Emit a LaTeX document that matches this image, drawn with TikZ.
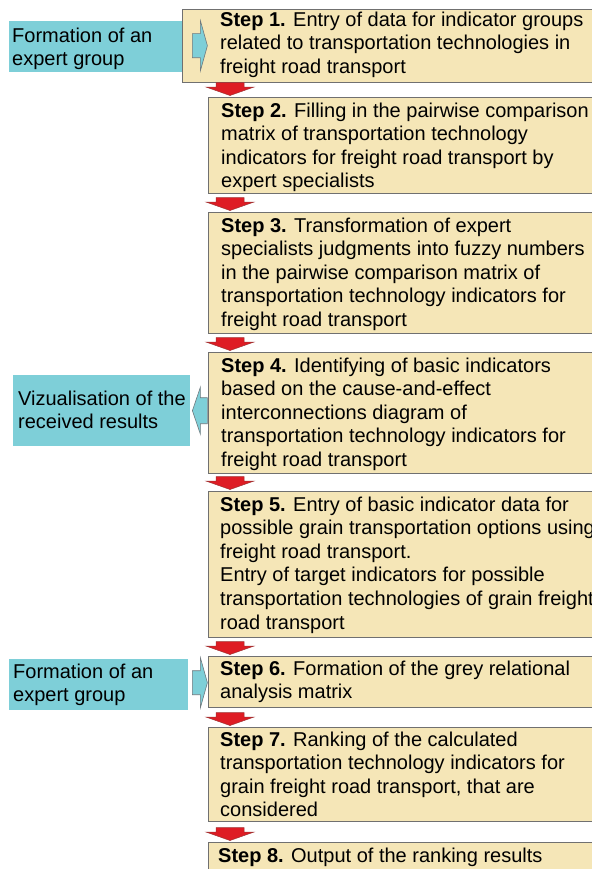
\documentclass[tikz,border=0pt]{standalone}
\usepackage{fontspec}
\setmainfont{Liberation Sans}
\usetikzlibrary{calc}
\definecolor{teal1}{RGB}{126,207,216}
\definecolor{wheat}{RGB}{245,230,183}
\definecolor{boxline}{RGB}{112,112,112}
\definecolor{arrred}{RGB}{222,28,36}
\definecolor{arrline}{RGB}{160,50,50}
\definecolor{sideline}{RGB}{110,120,125}
\tikzset{
  stepbox/.style={draw=boxline, fill=wheat, line width=1bp, rectangle, inner sep=0pt, anchor=north west},
  tealbox/.style={fill=teal1, draw=none, rectangle, inner sep=0pt, anchor=north west},
  txt/.style={anchor=base west, inner sep=0pt, align=left, font=\fontsize{20bp}{23.6bp}\selectfont},
  downarr/.pic={\draw[fill=arrred, draw=arrline, line width=0.5bp, line join=miter]
    (0,0) -- (-24,-8.5) -- (-14,-8.5) -- (-14,-13) -- (14,-13) -- (14,-8.5) -- (24,-8.5) -- cycle;},
  rightarr/.pic={\draw[fill=teal1, draw=sideline, line width=0.6bp]
    (0,0) -- (-7,-25) -- (-7,-12) -- (-15,-12) -- (-15,12) -- (-7,12) -- (-7,25) -- cycle;},
  leftarr/.pic={\draw[fill=teal1, draw=sideline, line width=0.6bp]
    (0,0) -- (8,-23.5) -- (8,-13) -- (15,-13) -- (15,13) -- (8,13) -- (8,23.5) -- cycle;},
}
\begin{document}
\begin{tikzpicture}[x=1bp,y=-1bp]
\useasboundingbox (0,0) rectangle (592,869);
\fill[white] (0,0) rectangle (592,869);
\clip (0,0) rectangle (592,869);
% teal side boxes
\node[tealbox, minimum width=173bp, minimum height=51bp] (tb1) at (9,21) {};
\node[tealbox, minimum width=177bp, minimum height=71bp] (tb2) at (13,375) {};
\node[tealbox, minimum width=179bp, minimum height=51bp] (tb3) at (9,659) {};
% step boxes
\node[stepbox, minimum width=418bp, minimum height=73bp] (s1) at (182,9) {};
\node[stepbox, minimum width=392bp, minimum height=96bp] (s2) at (208,97) {};
\node[stepbox, minimum width=392bp, minimum height=121bp] (s3) at (208,212) {};
\node[stepbox, minimum width=392bp, minimum height=121bp] (s4) at (208,352) {};
\node[stepbox, minimum width=392bp, minimum height=146bp] (s5) at (208,491) {};
\node[stepbox, minimum width=392bp, minimum height=51bp] (s6) at (208,656) {};
\node[stepbox, minimum width=392bp, minimum height=94bp] (s7) at (208,727) {};
\node[stepbox, minimum width=392bp, minimum height=40bp] (s8) at (208,842) {};
% texts of teal boxes (anchored at the baseline of the last line)
\node[txt] (q1) at (12,65.6) {Formation of an\\expert group};
\node[txt] (q2) at (18,428.6) {Vizualisation of the\\received results};
\node[txt] (q3) at (13,701.6) {Formation of an\\expert group};
% texts of steps
\node[txt] (p1) at (220,73.2) {\textbf{Step 1.} Entry of data for indicator groups\\related to transportation technologies in\\freight road transport};
\node[txt] (p2) at (221,187.8) {\textbf{Step 2.} Filling in the pairwise comparison\\matrix of transportation technology\\indicators for freight road transport by\\expert specialists};
\node[txt] (p3) at (221,326.4) {\textbf{Step 3.} Transformation of expert\\specialists judgments into fuzzy numbers\\in the pairwise comparison matrix of\\transportation technology indicators for\\freight road transport};
\node[txt] (p4) at (221,466.4) {\textbf{Step 4.} Identifying of basic indicators\\based on the cause-and-effect\\interconnections diagram of\\transportation technology indicators for\\freight road transport};
\node[txt] (p5) at (220,629) {\textbf{Step 5.} Entry of basic indicator data for\\possible grain transportation options using\\freight road transport.\\Entry of target indicators for possible\\transportation technologies of grain freight\\road transport};
\node[txt] (p6) at (220,698.6) {\textbf{Step 6.} Formation of the grey relational\\analysis matrix};
\node[txt] (p7) at (220,816.8) {\textbf{Step 7.} Ranking of the calculated\\transportation technology indicators for\\grain freight road transport, that are\\considered};
\node[txt] (p8) at (218,862) {\textbf{Step 8.} Output of the ranking results};
% red arrows between steps
\pic at ($(s2.north west)+(22,-1.5)$) {downarr};
\pic at ($(s3.north west)+(22,-1.5)$) {downarr};
\pic at ($(s4.north west)+(22,-1.5)$) {downarr};
\pic at ($(s5.north west)+(22,-1.5)$) {downarr};
\pic at ($(s6.north west)+(22,-1.5)$) {downarr};
\pic at ($(s7.north west)+(22,-1.5)$) {downarr};
\pic at ($(s8.north west)+(22,-1.5)$) {downarr};
% side arrows
\pic at ($(tb1.east)+(25,-1)$) {rightarr};
\pic at ($(tb2.east)+(2,0)$) {leftarr};
\pic at ($(tb3.east)+(19,-2)$) {rightarr};
\end{tikzpicture}
\end{document}
